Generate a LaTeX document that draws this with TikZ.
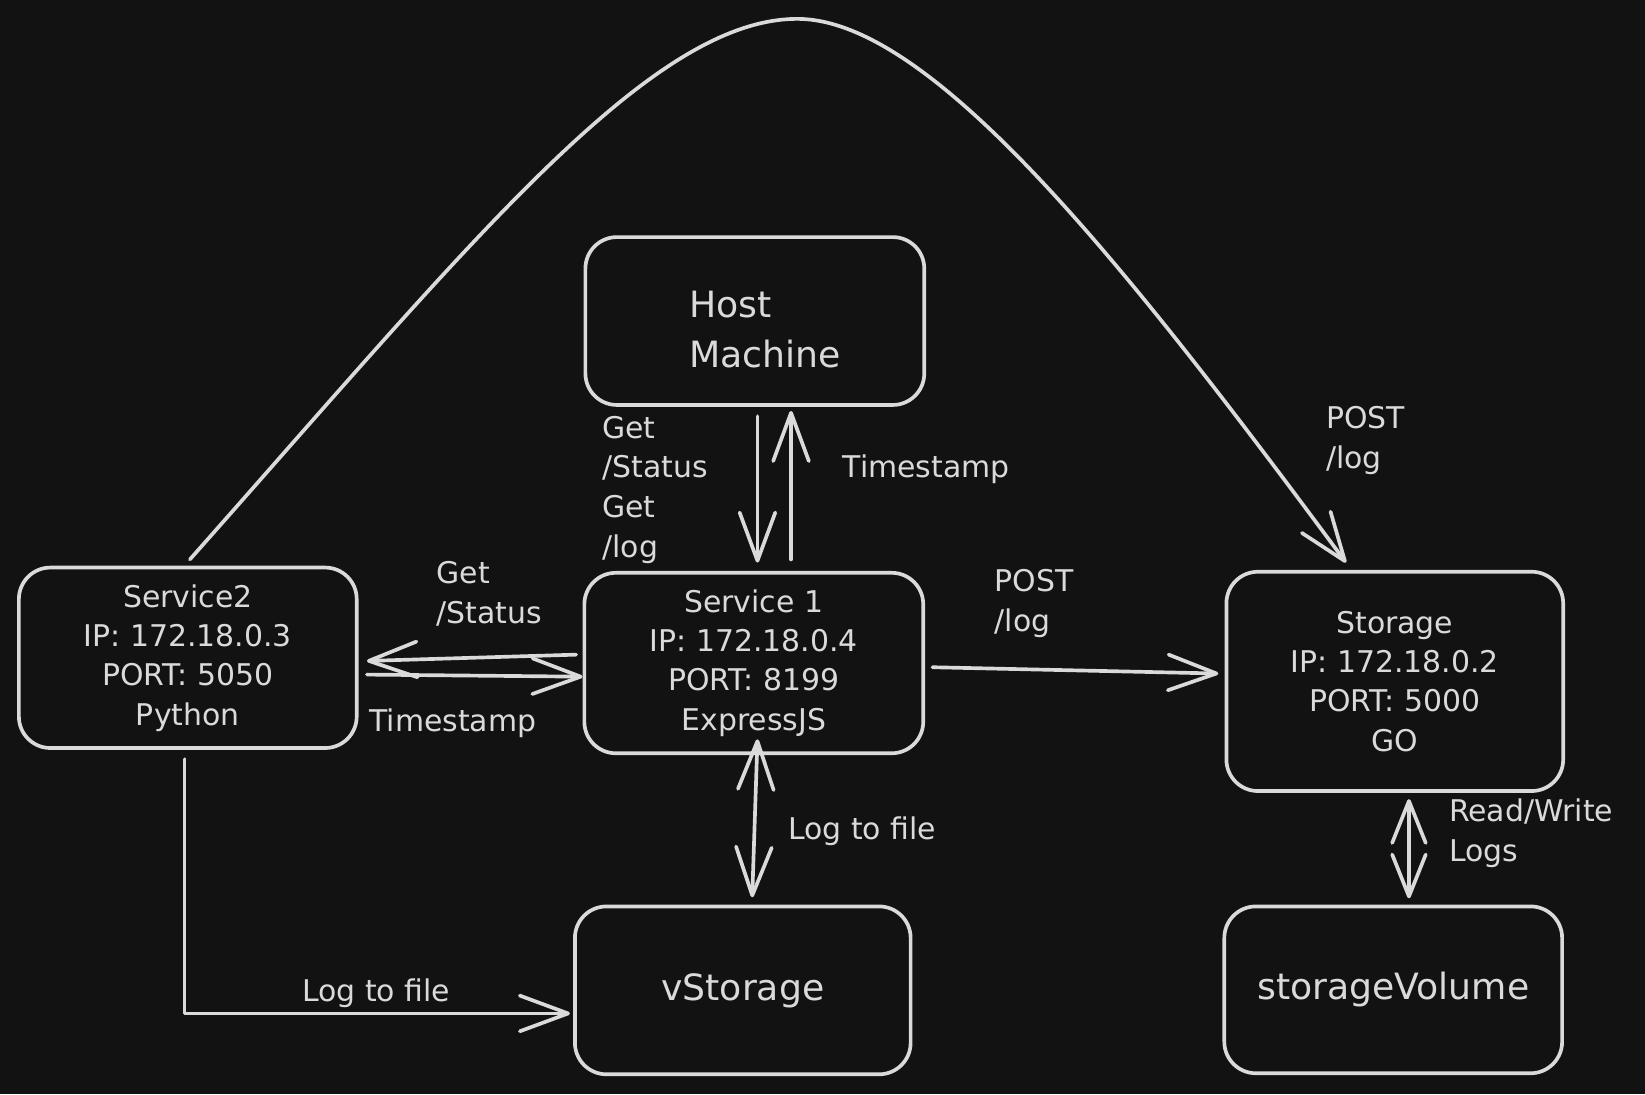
\documentclass[tikz,border=0pt]{standalone}
\usepackage{fontspec}
\setmainfont{DejaVu Sans}
\usetikzlibrary{arrows.meta,calc}
\definecolor{bg}{HTML}{121212}
\definecolor{ink}{HTML}{DADADA}
\tikzset{
  box/.style={draw=ink, line width=3.5pt, rounded corners=30pt, fill=bg, text=ink, inner sep=0pt},
  boxtxt/.style={font=\fontsize{28.5}{37.5}\selectfont, align=center},
  bigtxt/.style={text=ink, font=\fontsize{34.5}{48}\selectfont},
  lbl/.style={text=ink, inner sep=0pt, anchor=west, align=left, font=\fontsize{28.5}{38}\selectfont},
  barb/.tip={Straight Barb[length=46pt,width=34pt,line cap=round,line join=round]},
  sbarb/.tip={Straight Barb[length=40pt,width=32pt,line cap=round,line join=round]},
  conn/.style={draw=ink, line width=3.5pt, line cap=round, line join=round, -barb},
  conn2/.style={draw=ink, line width=3.5pt, line cap=round, line join=round, barb-barb},
  conn2s/.style={draw=ink, line width=3.5pt, line cap=round, line join=round, sbarb-sbarb}
}
\begin{document}
\begin{tikzpicture}[x=1pt,y=-1pt]
\fill[bg] (0,0) rectangle (1568,1042.8);
\useasboundingbox (0,0) rectangle (1568,1042.8);

% boxes
\node[box, minimum width=323pt, minimum height=160pt] (host) at (719.5,306) {};
\node[bigtxt, anchor=west, align=left, inner sep=0pt] (hosttxt) at ([xshift=-62.5pt,yshift=-8pt]host.center) {Host\\Machine};
\node[box, boxtxt, minimum width=323pt, minimum height=172pt] (s1) at (718.5,632) {Service 1\\IP: 172.18.0.4\\PORT: 8199\\ExpressJS};
\node[box, boxtxt, minimum width=322pt, minimum height=172pt] (s2) at (179,627) {Service2\\IP: 172.18.0.3\\PORT: 5050\\Python};
\node[box, boxtxt, minimum width=321pt, minimum height=209pt] (stor) at (1329.5,649.5) {Storage\\IP: 172.18.0.2\\PORT: 5000\\GO};
\node[box, bigtxt, minimum width=320pt, minimum height=160pt] (vst) at (708,944) {vStorage};
\node[box, bigtxt, minimum width=322pt, minimum height=159pt] (svol) at (1328,943.5) {storageVolume};

% connectors
\draw[conn] ([xshift=2.5pt,yshift=-9pt]host.south) -- ([xshift=3.5pt,yshift=8pt]s1.north);
\draw[conn] ([xshift=35.5pt,yshift=11pt]s1.north) -- ([xshift=34.5pt,yshift=-4pt]host.south);
\draw[conn] ([xshift=-6pt,yshift=8pt]s1.west) -- ([xshift=8pt,yshift=-3pt]s2.east);
\draw[conn] ([xshift=8pt,yshift=-16pt]s2.east) -- ([yshift=-13pt]s1.west);
\draw[conn] ([xshift=7pt,yshift=-4pt]s1.east) -- ([xshift=-6pt,yshift=7.5pt]stor.west);
\draw[conn2] ([xshift=3.5pt,yshift=15pt]s1.south) -- ([xshift=9pt,yshift=7pt]vst.north);
\draw[conn2s] ([xshift=13.5pt,yshift=-6pt]stor.south) -- ([xshift=15pt,yshift=6pt]svol.north);
\draw[conn] ([xshift=-3pt,yshift=-9pt]s2.south) |- ([xshift=-3pt,yshift=-22pt]vst.west);
\draw[conn] ([xshift=2pt,yshift=6pt]s2.north) .. controls (450,230) and (620,18) .. (760,18)
   .. controls (890,18) and (1080,262) .. ([xshift=-46.5pt,yshift=7pt]stor.north);

% labels
\node[lbl] (l1) at (574,467) {Get\\/Status\\Get\\/log};
\node[lbl] (l2) at (803,447) {Timestamp};
\node[lbl] (l3) at (1264,419.5) {POST\\/log};
\node[lbl] (l4) at (416,566) {Get\\/Status};
\node[lbl] (l5) at (352,689) {Timestamp};
\node[lbl] (l6) at (948,575) {POST\\/log};
\node[lbl] (l7) at (751,792) {Log to file};
\node[lbl] (l8) at (1381,794.5) {Read/Write\\Logs};
\node[lbl] (l9) at (288,947) {Log to file};
\end{tikzpicture}
\end{document}
